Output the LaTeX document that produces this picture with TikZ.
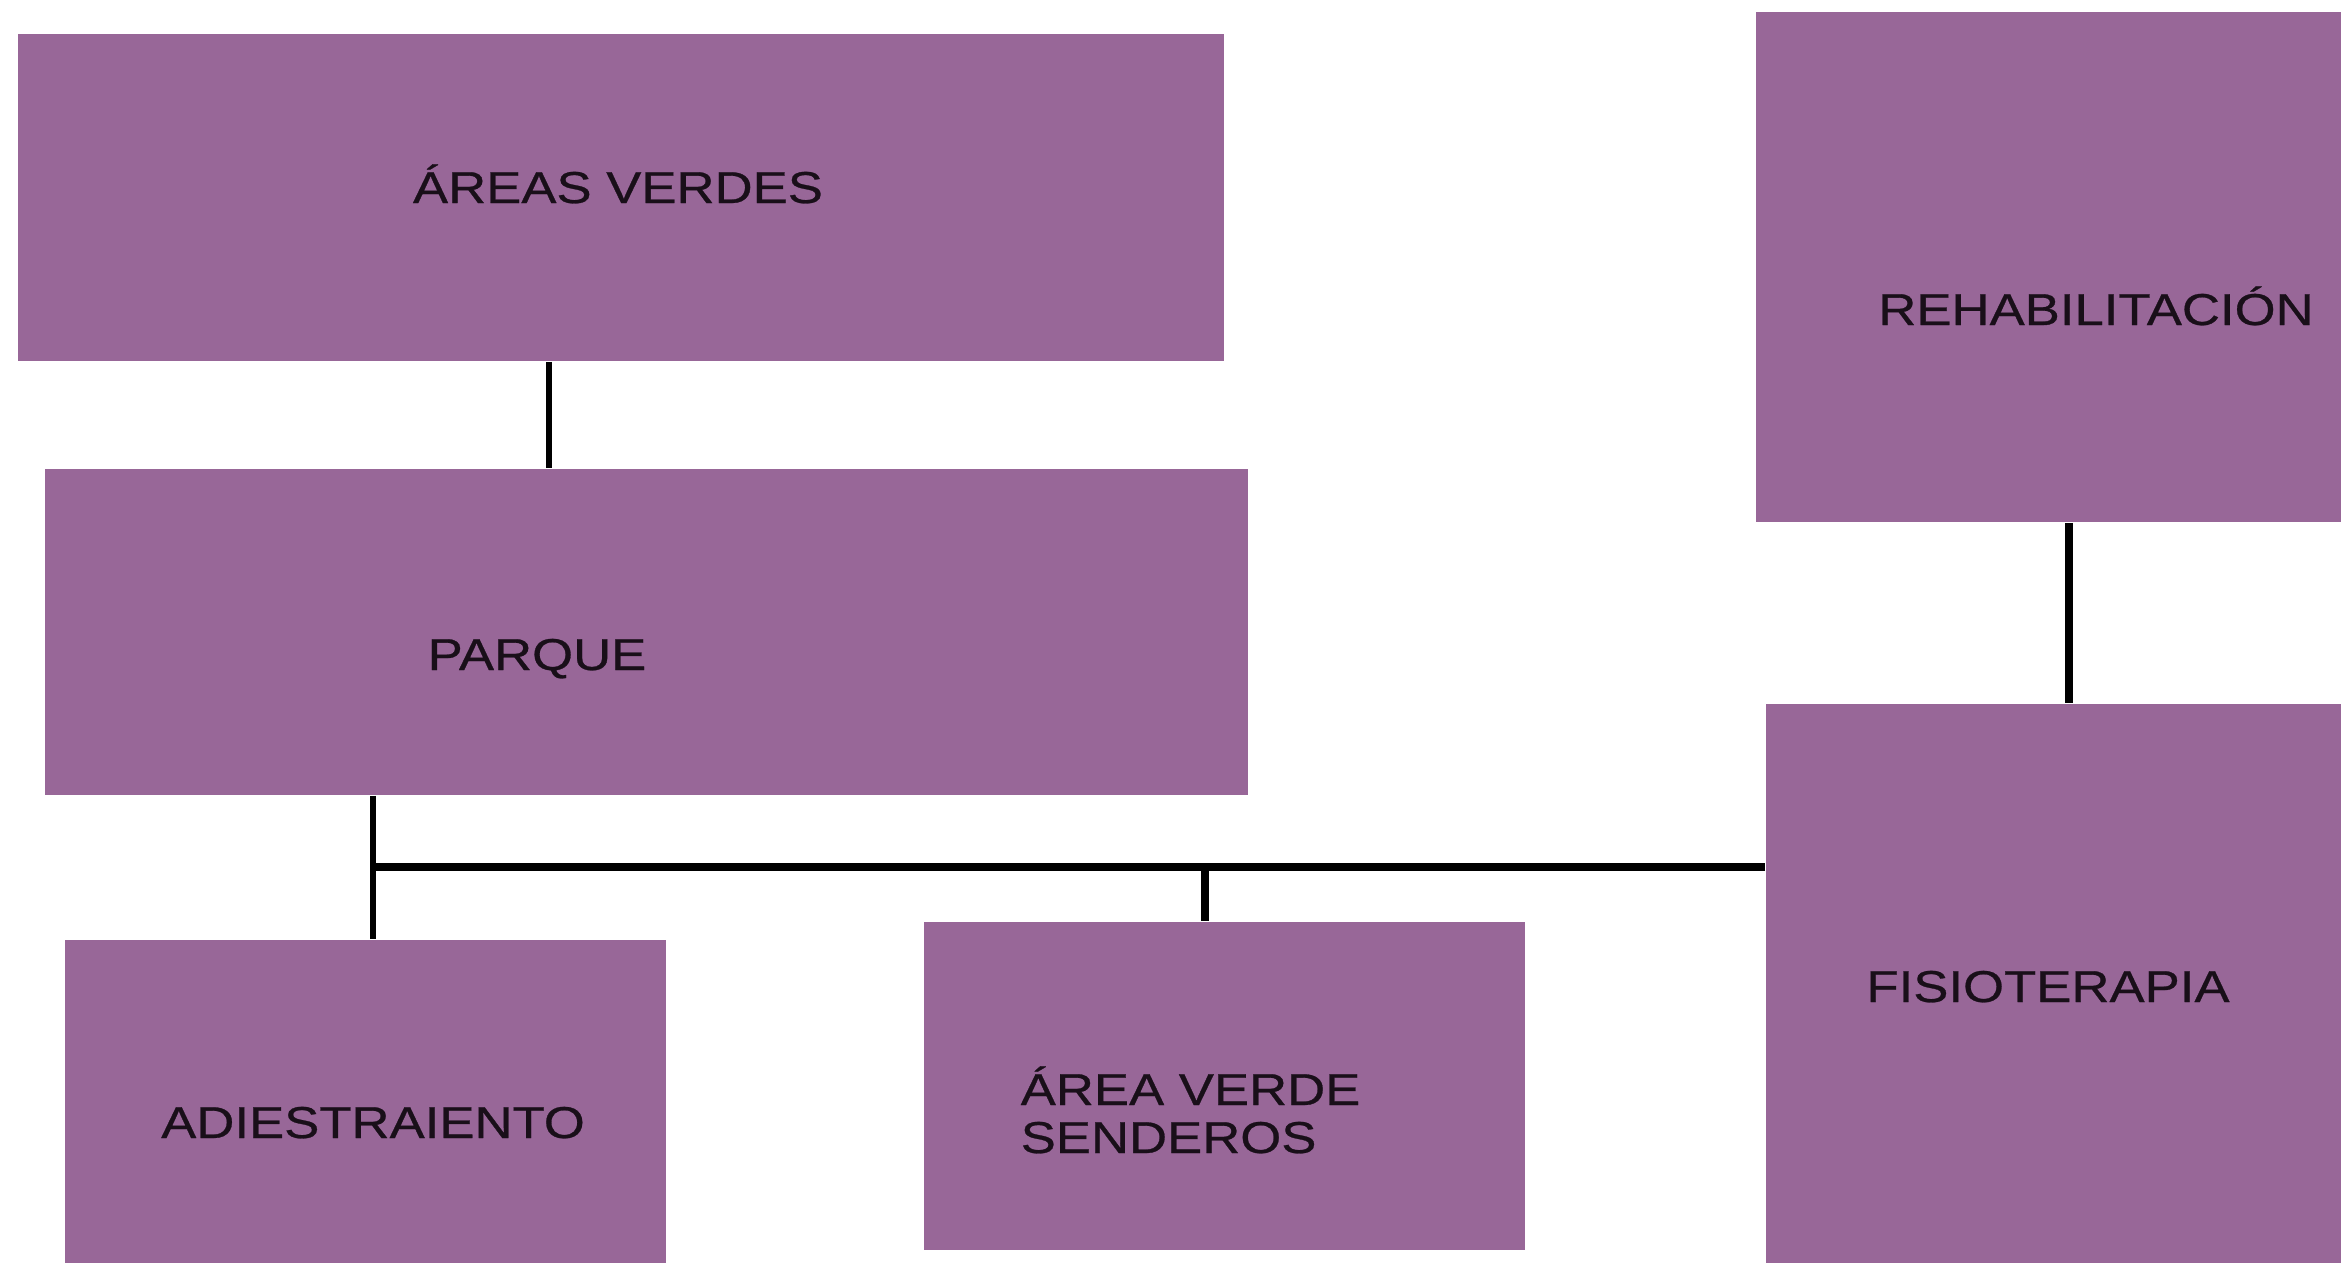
\documentclass[tikz,border=0pt]{standalone}
\usepackage{fontspec}
\setmainfont{Liberation Sans}[FakeStretch=1.18,FakeBold=0.6]
\definecolor{boxpurple}{RGB}{152,103,152}
\definecolor{txt}{RGB}{25,15,25}
\begin{document}
\begin{tikzpicture}[x=0.01cm,y=-0.01cm,
  box/.style={rectangle,fill=boxpurple,draw=none,inner sep=0pt},
  lbl/.style={anchor=base,inner sep=0pt,text=txt,font=\fontsize{12.7pt}{15pt}\selectfont},
  lblw/.style={anchor=base west,inner sep=0pt,text=txt,font=\fontsize{12.7pt}{15pt}\selectfont},
  thinline/.style={line width=1.5pt,black},
  thickline/.style={line width=2pt,black}]
\useasboundingbox (0,0) rectangle (2341,1263);
\clip (0,0) rectangle (2341,1263);
\fill[white] (0,0) rectangle (2341,1263);
% boxes
\node[box,minimum width=12.06cm,minimum height=3.27cm] (av) at (621,197.5) {};
\node[box,minimum width=12.03cm,minimum height=3.26cm] (pq) at (646.5,632) {};
\node[box,minimum width=6.44cm,minimum height=5.10cm] (rh) at (2078,267) {};
\node[box,minimum width=6.34cm,minimum height=6.16cm] (fs) at (2083,1012) {};
\node[box,minimum width=6.01cm,minimum height=3.80cm] (ad) at (365.5,1130) {};
\node[box,minimum width=6.01cm,minimum height=3.28cm] (sd) at (1224.5,1086) {};
% labels
\node[lbl] (tav) at (618,203) {ÁREAS VERDES};
\node[lbl] (tpq) at (537,670) {PARQUE};
\node[lbl] (trh) at (2096,325) {REHABILITACIÓN};
\node[lbl] (tfs) at (2048,1002) {FISIOTERAPIA};
\node[lbl] (tad) at (373,1138) {ADIESTRAIENTO};
\node[lblw] (tsd1) at (1020,1105) {ÁREA VERDE};
\node[lblw] (tsd2) at (1020,1153) {SENDEROS};
% connectors
\coordinate (c1) at (549,0);
\coordinate (c2) at (2069,0);
\coordinate (c3) at (373,0);
\coordinate (bus) at (373,867);
\coordinate (c4) at (1205,867);
\draw[thinline] (c1 |- av.south) -- (c1 |- pq.north);
\draw[thickline] (c2 |- rh.south) -- (c2 |- fs.north);
\draw[thinline] (c3 |- pq.south) -- (c3 |- ad.north);
\draw[thickline] (bus) -- (bus -| fs.west);
\draw[thickline] (c4) -- (c4 |- sd.north);
\end{tikzpicture}
\end{document}
